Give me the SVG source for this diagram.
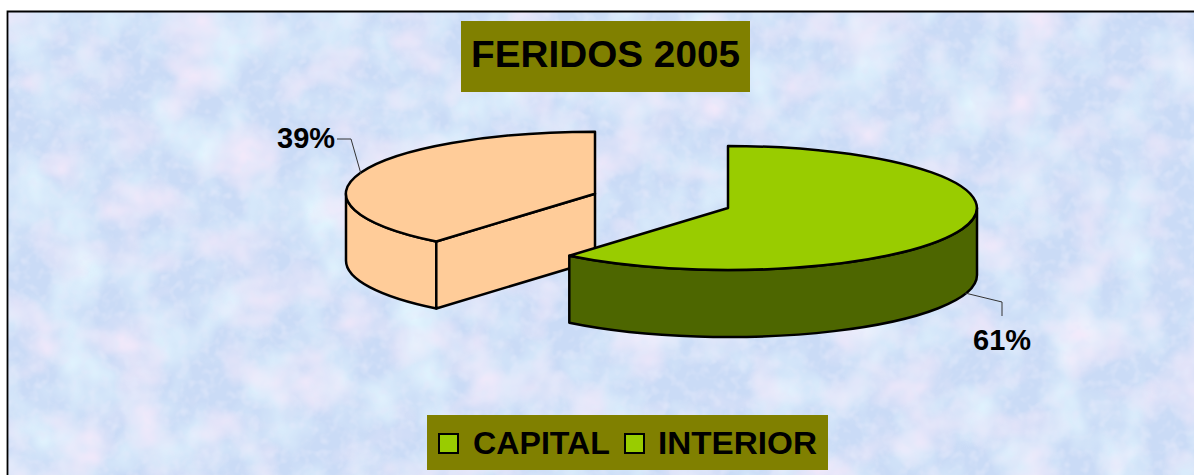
<svg xmlns="http://www.w3.org/2000/svg" width="1194" height="475" viewBox="0 0 1194 475">
  <style>
    .lbl { font-family: "Liberation Sans", Arial, sans-serif; font-weight: bold; fill: #000; }
    .edge { stroke: #000; stroke-width: 2.5; stroke-linejoin: round; }
    .leader { fill: none; stroke: #333; stroke-width: 1; }
    .box { fill: #808000; }
    .key { fill: #99CC00; stroke: #000; stroke-width: 2; }
  </style>
  <defs>
    <filter id="pink" x="0" y="0" width="100%" height="100%">
      <feTurbulence type="fractalNoise" baseFrequency="0.018 0.022" numOctaves="3" seed="4"/>
      <feColorMatrix type="matrix" values="0 0 0 0 0.91  0 0 0 0 0.82  0 0 0 0 0.96  2.2 0 0 0 -1.0"/>
    </filter>
    <filter id="cyan" x="0" y="0" width="100%" height="100%">
      <feTurbulence type="fractalNoise" baseFrequency="0.02 0.017" numOctaves="3" seed="11"/>
      <feColorMatrix type="matrix" values="0 0 0 0 0.76  0 0 0 0 0.91  0 0 0 0 0.99  0 2.2 0 0 -0.9"/>
    </filter>
    <filter id="grain" x="0" y="0" width="100%" height="100%">
      <feTurbulence type="fractalNoise" baseFrequency="0.1" numOctaves="2" seed="7"/>
      <feColorMatrix type="matrix" values="0 0 0 0 0.76  0 0 0 0 0.81  0 0 0 0 0.96  0 0 1.6 0 -0.75"/>
    </filter>
  </defs>

  <g id="background">
    <rect x="0" y="0" width="1194" height="475" fill="#ffffff"/>
    <rect x="7" y="11" width="1187" height="464" fill="#CADBF6"/>
    <rect x="7" y="11" width="1187" height="464" filter="url(#cyan)"/>
    <rect x="7" y="11" width="1187" height="464" filter="url(#pink)"/>
    <rect x="7" y="11" width="1187" height="464" filter="url(#grain)"/>
    <path d="M7.5,476 V11.5 H1195" fill="none" stroke="#000" stroke-width="1.8"/>
  </g>

  <g id="title">
    <rect class="box" x="461" y="21" width="289" height="71"/>
    <text class="lbl" x="605.5" y="67" font-size="36" text-anchor="middle" textLength="269" lengthAdjust="spacingAndGlyphs">FERIDOS 2005</text>
  </g>

  <g id="slice-interior">
    <path class="edge" fill="#FFCC99" d="M346,193.7 A249,62 0 0,0 436.3,241.5 L436.3,308.5 A249,62 0 0,1 346,260.7 Z"/>
    <path class="edge" fill="#FFCC99" d="M436.3,241.5 L595,193.7 L595,260.7 L436.3,308.5 Z"/>
    <path class="edge" fill="#FFCC99" d="M595,193.7 L436.3,241.5 A249,62 0 0,1 595,131.7 Z"/>
  </g>

  <g id="slice-capital">
    <path class="edge" fill="#4D6600" d="M977,208 A249,62 0 0,1 569.3,255.8 L569.3,322.8 A249,62 0 0,0 977,275 Z"/>
    <path class="edge" fill="#99CC00" d="M728,208 L728,146 A249,62 0 1,1 569.3,255.8 Z"/>
  </g>

  <g id="connectors">
    <polyline class="leader" points="337,139 351,139 361,174"/>
    <polyline class="leader" points="965,293 1002,302 1002,316"/>
  </g>

  <g id="label-interior">
    <text class="lbl" x="277" y="148" font-size="29">39%</text>
  </g>
  <g id="label-capital">
    <text class="lbl" x="973" y="350" font-size="29">61%</text>
  </g>

  <g id="legend">
    <rect class="box" x="427" y="415" width="401" height="55"/>
    <rect class="key" x="439" y="434" width="19" height="19"/>
    <text class="lbl" x="473" y="454" font-size="31" textLength="137" lengthAdjust="spacingAndGlyphs">CAPITAL</text>
    <rect class="key" x="625" y="434" width="19" height="19"/>
    <text class="lbl" x="658" y="454" font-size="31" textLength="159" lengthAdjust="spacingAndGlyphs">INTERIOR</text>
  </g>
</svg>
